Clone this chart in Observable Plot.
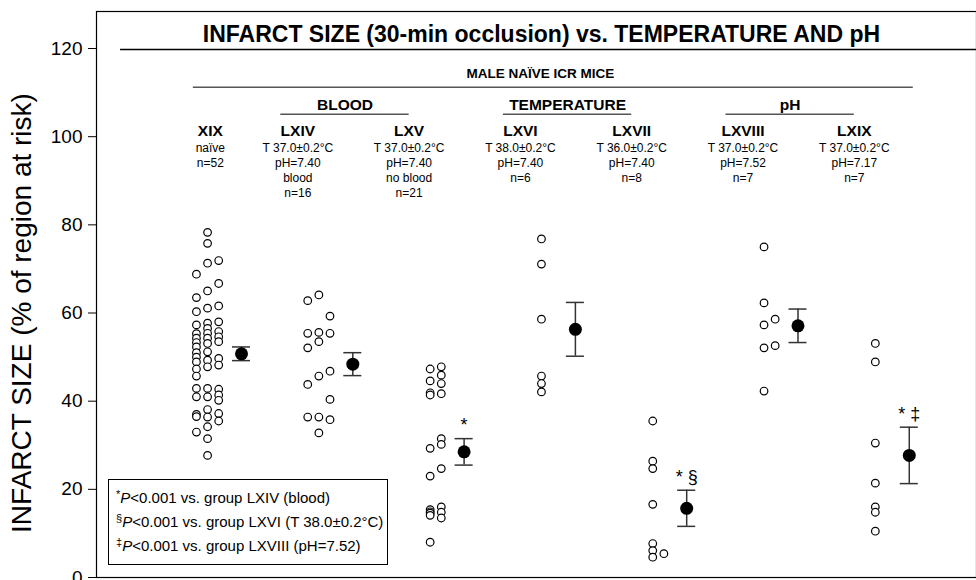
<!DOCTYPE html>
<html><head><meta charset="utf-8">
<script src="https://cdn.jsdelivr.net/npm/d3@7"></script>
<script src="https://cdn.jsdelivr.net/npm/@observablehq/plot@0.6"></script>
<style>
body{margin:0;background:#fff;font-family:"Liberation Sans",Arial,sans-serif}
#wrap{position:relative;width:976px;height:580px}
#legend{position:absolute;left:108px;top:479px;width:280px;height:86px;border:1px solid #000;background:#fff;font-size:15px;line-height:24px;padding:6px 0 0 7px;box-sizing:border-box;color:#000;white-space:nowrap}
#legend sup{font-size:11px;vertical-align:5px;line-height:0}
</style>
</head><body><div id="wrap"><div id="chart"></div>
<div id="legend">
<div><sup>*</sup><i>P</i>&lt;0.001 vs. group LXIV (blood)</div>
<div><sup>§</sup><i>P</i>&lt;0.001 vs. group LXVI (T 38.0±0.2°C)</div>
<div><sup>‡</sup><i>P</i>&lt;0.001 vs. group LXVIII (pH=7.52)</div>
</div></div>
<script>
// ---- data ----
const groups = ["XIX","LXIV","LXV","LXVI","LXVII","LXVIII","LXIX"];
const groupDetails = [
  ["naïve","n=52"],
  ["T 37.0±0.2°C","pH=7.40","blood","n=16"],
  ["T 37.0±0.2°C","pH=7.40","no blood","n=21"],
  ["T 38.0±0.2°C","pH=7.40","n=6"],
  ["T 36.0±0.2°C","pH=7.40","n=8"],
  ["T 37.0±0.2°C","pH=7.52","n=7"],
  ["T 37.0±0.2°C","pH=7.17","n=7"]
];
// individual values, one array per column of the dot strip
const XIX_cols = [
  [68.8,63.5,60.3,57.3,55.3,54.3,53.3,52.3,51.0,50.0,48.9,47.3,45.7,42.9,41.0,37.0,36.5,33.0],
  [78.3,75.8,71.3,65.0,61.1,57.7,56.5,55.4,54.3,53.1,51.2,49.3,47.8,42.9,41.0,38.1,36.4,34.2,31.5,27.7],
  [71.9,66.7,61.6,58.0,55.8,54.6,53.5,49.7,48.2,42.7,41.4,40.2,37.2,35.5]
];
const LXIV_cols = [
  [62.8,55.4,52.1,43.8,36.4],
  [64.1,55.6,53.5,45.7,36.4,32.8],
  [59.3,55.4,46.8,40.4,35.8]
];
const LXV_cols = [
  [47.3,44.6,41.9,41.4,29.3,23.0,15.4,14.9,14.6,14.1,8.0],
  [47.8,45.9,44.0,41.7,31.5,30.2,24.7,16.0,14.8,13.5]
];
const LXVI_cols = [[76.8,71.1,58.6,45.7,44.0,42.1]];
const LXVII_cols = [[35.5,26.4,24.7,16.6,7.7,6.1,4.6],[5.4]];
const LXVIII_cols = [[75.0,62.3,57.3,52.1,42.3],[58.6,52.6]];
const LXIX_cols = [[53.1,48.9,30.5,21.4,16.0,14.8,10.5]];
const allCols = [XIX_cols, LXIV_cols, LXV_cols, LXVI_cols, LXVII_cols, LXVIII_cols, LXIX_cols];
const colStart = [-1,-1,0,0,0,0,0];
const means = [50.75, 48.4, 28.5, 56.3, 15.7, 57.1, 27.7];
const sems  = [1.55, 2.6, 3.0, 6.1, 4.1, 3.8, 6.4];
const signif = ["", "", "*", "", "* §", "", "* ‡"];
const headerSpans = [
  {name:"BLOOD", from:1, to:2},
  {name:"TEMPERATURE", from:3, to:4},
  {name:"pH", from:5, to:6}
];
const yTicks = [0,20,40,60,80,100,120];
const titleText = "INFARCT SIZE (30-min occlusion) vs. TEMPERATURE AND pH";
const cohortText = "MALE NAÏVE ICR MICE";
const yLabel = "INFARCT SIZE (% of region at risk)";

// ---- layout helpers (group units) ----
const COL0 = -0.305, COLW = 0.1, CAP = 0.081;
const labelX = groups.map((g,i) => i === 0 ? i - 0.28 : i - 0.494);

const dots = [];
allCols.forEach((cols, gi) => cols.forEach((col, ci) => col.forEach(v =>
  dots.push({x: gi + COL0 + (ci + colStart[gi]) * COLW, y: v}))));
const summary = groups.map((g,i) => ({x:i, m:means[i], lo:means[i]-sems[i], hi:means[i]+sems[i], s:signif[i]}));
const labels = groups.map((g,i) => ({x:labelX[i], g}));
const detailRows = [];
groupDetails.forEach((rows,i) => rows.forEach((t,k) => detailRows.push({x:labelX[i], y:97.3 - k*3.4, t})));
const spans = headerSpans.map(s => {
  const x1 = labelX[s.from] - 0.153, x2 = labelX[s.to];
  return {...s, x1, x2, xc:(x1+x2)/2};
});
const font = "Liberation Sans, Arial, sans-serif";

const chart = Plot.plot({
  width: 976, height: 580,
  marginLeft: 96, marginRight: 0, marginTop: 11, marginBottom: 3,
  style: {fontFamily: font, background: "#fff", color: "#000"},
  x: {domain: [-1.303, 6.604], axis: null},
  y: {domain: [0, 128.4], axis: null},
  marks: [
    Plot.frame({stroke: "#000", strokeWidth: 1.2}),
    Plot.axisY({ticks: yTicks, tickSize: 8, tickPadding: 6, fontSize: 19, label: null, tickFormat: d => d}),
    Plot.text([yLabel], {frameAnchor: "left", y: 60, dx: -74, rotate: -90, textAnchor: "middle", fontSize: 28, text: d => d, fill: "#000"}),
    // headers
    Plot.text([titleText], {x: 2.695, y: 123.1, text: d => d, fontSize: 23, fontWeight: "bold"}),
    Plot.ruleY([119.8], {x1: -1.087, x2: 6.604, stroke: "#000", strokeWidth: 1.5}),
    Plot.text([cohortText], {x: 2.686, y: 114.3, text: d => d, fontSize: 13.5, fontWeight: "bold"}),
    Plot.ruleY([111.2], {x1: labelX[0] - 0.153, x2: labelX[6] + 0.53, stroke: "#555", strokeWidth: 1.5}),
    Plot.text(spans, {x: "xc", y: 107.1, text: "name", fontSize: 15.5, fontWeight: "bold"}),
    Plot.ruleY(spans, {y: 105.1, x1: "x1", x2: "x2", stroke: "#555", strokeWidth: 1.5}),
    Plot.text(labels, {x: "x", y: 101.2, text: "g", fontSize: 15.5, fontWeight: "bold"}),
    Plot.text(detailRows, {x: "x", y: "y", text: "t", fontSize: 12}),
    // data
    Plot.dot(dots, {x: "x", y: "y", r: 3.8, stroke: "#000", strokeWidth: 1.2, fill: "#fff"}),
    Plot.ruleX(summary, {x: "x", y1: "lo", y2: "hi", stroke: "#333", strokeWidth: 1.5}),
    Plot.ruleY(summary, {y: "lo", x1: d => d.x - CAP, x2: d => d.x + CAP, stroke: "#333", strokeWidth: 1.5}),
    Plot.ruleY(summary, {y: "hi", x1: d => d.x - CAP, x2: d => d.x + CAP, stroke: "#333", strokeWidth: 1.5}),
    Plot.dot(summary, {x: "x", y: "m", r: 6.5, fill: "#000"}),
    Plot.text(summary, {x: "x", y: d => d.hi + 3.0, text: "s", fontSize: 18})
  ]
});
document.getElementById("chart").appendChild(chart);
</script>
</body></html>
